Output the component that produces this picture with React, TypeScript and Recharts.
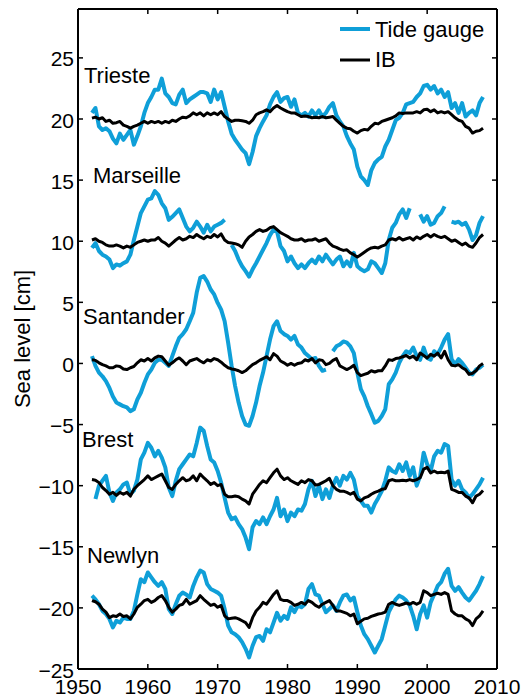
import React from 'react';
import { LineChart, Line, XAxis, YAxis, Legend } from 'recharts';

const BLUE = '#0f9fd8';
const INK = '#000000';
const FONT = '"Liberation Sans", Arial, Helvetica, sans-serif';

// half-year sampling grid, 1952.0 .. 2008.0
const YEARS = Array.from({ length: 113 }, (_, i) => 1952 + i * 0.5);
const X_TICKS = [1950, 1960, 1970, 1980, 1990, 2000, 2010];
const Y_TICKS = [-25, -20, -15, -10, -5, 0, 5, 10, 15, 20, 25];

const STATIONS = ['Trieste', 'Marseille', 'Santander', 'Brest', 'Newlyn'];

// each row of 10 = five years (1952, 1957, ... 2002), last row 2007-2008
const TRIESTE_TG = [
  20.5, 20.9, 19.4, 19.1, 19.25, 19.0, 18.4, 18.0, 18.8, 18.3,
  18.7, 19.1, 17.9, 18.6, 19.4, 20.5, 21.3, 21.8, 22.4, 22.4,
  23.3, 22.1, 21.8, 21.3, 21.2, 22.0, 22.4, 21.3, 21.6, 21.8,
  22.0, 22.2, 22.2, 22.1, 21.4, 22.4, 21.6, 22.2, 21.0, 19.8,
  18.8, 18.3, 17.9, 17.5, 17.2, 16.3, 17.3, 18.6, 19.25, 19.8,
  20.3, 21.2, 21.8, 22.2, 21.4, 21.7, 21.8, 21.0, 21.6, 20.5,
  20.3, 20.5, 20.2, 20.7, 20.3, 20.7, 20.2, 20.5, 21.0, 21.3,
  20.3, 19.8, 19.4, 18.6, 18.0, 17.5, 16.1, 15.3, 15.0, 14.6,
  15.8, 16.4, 16.7, 16.9, 17.75, 18.3, 19.1, 19.9, 20.1, 20.5,
  21.2, 21.3, 21.4, 21.8, 22.1, 22.7, 22.8, 22.4, 22.7, 22.1,
  22.4, 21.8, 22.2, 20.9, 21.3, 20.5, 21.3, 20.2, 20.5, 20.7,
  20.3, 21.3, 21.8,
];
const TRIESTE_IB = [
  20.07, 20.15, 20.0, 20.1, 19.8, 19.9, 19.65, 19.7, 19.8, 19.5,
  19.4, 19.25, 19.4, 19.5, 19.65, 19.8, 19.65, 19.8, 19.7, 19.8,
  19.65, 19.8, 19.7, 19.9, 19.8, 20.0, 20.15, 20.1, 20.25, 20.5,
  20.35, 20.5, 20.25, 20.5, 20.35, 20.5, 20.35, 20.6, 20.2, 20.0,
  19.8, 19.9, 19.9, 19.85, 19.8, 19.65, 19.9, 20.35, 20.5, 20.6,
  20.75, 20.6, 20.9, 21.1, 20.9, 20.75, 20.6, 20.5, 20.5, 20.35,
  20.2, 20.25, 20.2, 20.1, 20.15, 20.1, 20.2, 20.1, 20.15, 20.2,
  19.9, 19.65, 19.4, 19.25, 19.2, 19.0, 18.85, 19.05, 19.15, 19.1,
  19.4, 19.65, 19.6, 19.8, 19.9, 20.0, 20.1, 20.25, 20.5, 20.45,
  20.5, 20.5, 20.5, 20.6, 20.5, 20.75, 20.8, 20.6, 20.75, 20.5,
  20.6, 20.5, 20.6, 20.35, 20.1, 19.9, 19.8, 19.4, 19.25, 18.85,
  19.0, 19.05, 19.25,
];

const MARSEILLE_TG = [
  9.45, 9.85, 9.2, 8.9, 8.75, 8.5, 7.8, 8.1, 8.0, 8.2,
  8.35, 8.9, 10.1, 11.2, 12.3, 12.85, 13.4, 13.5, 14.1, 13.8,
  13.1, 12.7, 11.75, 12.0, 12.3, 12.6, 11.9, 11.2, 10.8, 11.1,
  11.6, 11.2, 10.7, 11.35, 10.8, 11.2, 11.35, 11.5, 11.75, null,
  9.7, 9.2, 8.5, 7.95, 7.55, 7.1, 7.7, 8.2, 8.75, 9.3,
  9.85, 10.5, 10.95, 10.8, 9.6, 9.2, 8.35, 8.75, 8.2, 7.8,
  8.1, 7.8, 8.2, 8.5, 8.2, 8.75, 8.35, 8.9, 8.5, 8.1,
  8.5, 8.75, 7.95, 8.35, 7.95, 9.05, 7.95, 7.7, 7.55, 7.7,
  8.35, 8.2, 7.8, 7.4, 8.2, 10.1, 11.1, 11.5, 12.2, 12.6,
  11.9, 12.7, null, null, 12.2, 11.6, 12.05, 11.35, 11.5, 12.05,
  12.3, 12.85, null, 11.6, 11.5, 11.6, 11.35, 11.5, 10.95, 10.1,
  10.5, 11.5, 12.05,
];
const MARSEILLE_IB = [
  10.1, 10.2, 10.0, 9.9, 9.7, 9.6, 9.6, 9.7, 9.6, 9.45,
  9.6, 9.5, 9.7, 9.9, 10.0, 10.1, 10.0, 10.1, 10.1, 10.3,
  10.0, 9.85, 9.6, 9.85, 10.1, 10.3, 10.1, 10.2, 10.4, 10.3,
  10.55, 10.35, 10.2, 10.4, 10.3, 10.55, 10.35, 10.6, 10.1, 9.9,
  9.85, 9.8, 9.7, 9.5, 10.0, 10.35, 10.55, 10.8, 10.95, 10.8,
  10.9, 11.1, 11.2, 10.95, 10.7, 10.55, 10.4, 10.2, 10.1, 10.1,
  10.2, 10.0, 10.1, 10.1, 10.2, 10.0, 10.1, 10.2, 9.85, 9.6,
  9.5, 9.35, 9.25, 9.3, 9.05, 8.9, 8.7, 8.9, 9.1, 9.3,
  9.45, 9.5, 9.45, 9.6, 9.7, 10.1, 10.2, 10.1, 10.3, 10.1,
  10.2, 10.3, 10.1, 10.35, 10.2, 10.4, 10.55, 10.35, 10.55, 10.4,
  10.3, 10.4, 10.2, 10.0, 10.1, 9.9, 9.7, 9.85, 9.6, 9.5,
  9.85, 10.3, 10.55,
];

const SANTANDER_TG = [
  0.6, -0.2, -0.75, -1.05, -1.45, -2.0, -2.7, -3.2, -3.35, -3.5,
  -3.6, -3.9, -3.75, -2.95, -2.4, -1.6, -0.9, -0.5, 0.05, 0.3,
  0.3, 0.05, -0.2, 0.6, 1.4, 2.1, 2.4, 2.8, 3.45, 4.15,
  5.8, 7.0, 7.15, 6.7, 6.05, 5.65, 4.95, 4.4, 3.45, 1.7,
  -0.2, -1.85, -3.2, -4.3, -5.0, -5.1, -4.3, -3.2, -1.85, -0.75,
  0.6, 1.95, 3.05, 3.45, 2.65, 2.4, 2.25, 1.95, 2.25, 1.55,
  1.3, 0.85, 0.6, 0.35, 0.45, -0.2, -0.6, -0.5, null, 1.0,
  1.4, 1.55, 1.8, 1.7, 1.4, 0.85, -0.75, -2.1, -2.7, -3.5,
  -4.15, -4.85, -4.7, -4.3, -3.75, -1.7, -1.3, -0.75, 0.05, 0.6,
  1.0, 0.85, 1.3, 0.6, 0.3, 1.3, 0.45, 0.3, 1.0, 0.75,
  1.3, 1.95, 2.4, 0.35, -0.1, 0.35, 0.05, -0.35, -0.75, -0.9,
  -0.5, -0.35, -0.1,
];
const SANTANDER_IB = [
  0.3, 0.25, 0.05, -0.1, -0.2, -0.35, -0.35, -0.2, -0.25, -0.45,
  -0.5, -0.35, -0.25, 0.05, 0.3, 0.2, 0.4, 0.2, 0.45, 0.6,
  0.55, 0.2, -0.15, 0.05, 0.3, 0.45, 0.2, -0.1, 0.2, 0.3,
  0.4, 0.2, 0.05, 0.3, 0.2, 0.4, 0.3, 0.1, -0.15, -0.35,
  -0.45, -0.5, -0.6, -0.75, -0.6, -0.35, -0.1, 0.05, 0.25, 0.4,
  0.55, 0.3, 0.8, 0.6, 0.2, 0.05, -0.15, 0.0, -0.15, 0.0,
  0.05, 0.3, 0.2, 0.4, 0.05, 0.3, 0.25, -0.1, 0.0, 0.25,
  0.4, -0.2, -0.35, -0.5, -0.35, -0.15, -0.75, -1.0, -0.9, -0.8,
  -0.6, -0.7, -0.6, -0.6, -0.2, 0.3, 0.25, 0.4, 0.45, 0.55,
  0.65, 0.45, 0.6, 0.3, 0.85, 0.65, 0.45, 0.75, 0.6, 0.85,
  0.45, 1.0, 0.3, -0.15, -0.2, -0.1, -0.35, -0.5, -0.9, -0.8,
  -0.6, -0.2, 0.0,
];

const BREST_TG = [
  null, -11.1, -10.0, -9.6, -9.2, -10.55, -11.25, -10.55, -10.3, -9.9,
  -9.75, -10.7, -10.4, -9.5, -7.85, -7.3, -6.5, -6.9, -7.6, -7.15,
  -7.7, -8.5, -10.15, -10.85, -9.6, -8.65, -8.25, -7.85, -7.45, -7.6,
  -6.5, -5.25, -5.5, -6.75, -7.85, -8.1, -8.8, -9.75, -11.0, -12.2,
  -12.75, -12.6, -13.15, -13.55, -14.25, -15.2, -13.4, -12.9, -13.15, -12.6,
  -13.15, -12.5, -11.95, -11.0, -12.5, -11.95, -12.9, -12.2, -12.5, -11.95,
  -12.05, -11.5, -10.3, -9.6, -10.85, -10.0, -11.1, -10.3, -11.0, -10.0,
  -9.35, -10.0, -9.2, -9.5, -8.95, -9.5, -10.85, -11.25, -11.65, -11.65,
  -12.2, -11.5, -11.0, -10.45, -9.6, -8.5, -8.8, -8.95, -8.25, -8.8,
  -8.1, -9.2, -8.5, -10.0, -9.2, -7.3, -8.25, -8.8, -7.6, -7.15,
  -7.3, -6.6, -6.75, -9.5, -10.0, -9.6, -10.3, -10.55, -11.0, -10.7,
  -10.3, -9.9, -9.35,
];
const BREST_IB = [
  -9.5, -9.55, -9.75, -10.15, -10.4, -10.7, -10.55, -10.8, -10.55, -10.7,
  -10.55, -10.85, -10.3, -10.0, -9.75, -9.5, -9.2, -9.5, -9.35, -9.2,
  -9.05, -9.6, -10.15, -10.3, -9.9, -9.6, -9.35, -9.6, -9.5, -9.2,
  -9.6, -9.05, -9.35, -9.6, -9.9, -9.75, -10.0, -9.9, -10.7, -10.9,
  -10.9, -10.85, -10.9, -11.1, -11.25, -11.5, -10.7, -10.3, -9.9, -9.6,
  -9.75, -9.35, -8.95, -8.65, -9.2, -9.5, -9.35, -9.6, -9.75, -9.9,
  -9.6, -9.75, -9.5, -9.6, -9.95, -9.9, -9.75, -9.6, -9.4, -10.0,
  -10.3, -10.45, -10.45, -10.55, -10.7, -10.55, -11.1, -11.25, -11.0, -10.9,
  -10.7, -10.55, -10.45, -10.3, -10.25, -9.6, -9.5, -9.6, -9.6, -9.55,
  -9.6, -9.5, -9.6, -9.5, -9.35, -8.65, -8.5, -8.95, -8.8, -8.95,
  -8.9, -8.95, -8.8, -10.3, -10.4, -10.55, -10.55, -10.85, -11.0, -11.4,
  -10.85, -10.7, -10.4,
];

const NEWLYN_TG = [
  -19.0, -19.3, -19.7, -20.25, -20.5, -20.9, -21.6, -21.05, -21.2, -20.8,
  -20.9, -20.9, -20.25, -18.9, -17.65, -17.9, -17.1, -17.5, -17.9, -18.2,
  -17.9, -18.45, -20.1, -20.5, -19.7, -19.0, -18.75, -18.9, -19.15, -18.2,
  -17.5, -16.95, -17.1, -18.05, -18.45, -18.6, -18.75, -19.0, -20.1, -21.45,
  -22.0, -22.15, -22.4, -22.8, -23.35, -24.05, -23.1, -22.4, -22.3, -22.7,
  -21.75, -22.0, -21.2, -20.4, -21.05, -20.65, -20.9, -19.95, -20.35, -19.8,
  -19.95, -19.7, -18.45, -18.05, -18.9, -19.0, -19.7, -20.35, -20.1, -19.8,
  -20.25, -19.55, -19.0, -18.9, -19.4, -19.15, -20.35, -21.45, -22.15, -22.55,
  -23.1, -23.65, -23.1, -22.55, -21.45, -20.35, -19.8, -19.3, -19.0, -19.15,
  -19.4, -19.8, -20.65, -21.75, -20.5, -19.8, -20.8, -19.55, -18.9, -18.2,
  -17.9, -17.2, -16.8, -18.2, -18.6, -18.3, -18.75, -19.15, -19.4, -19.0,
  -18.6, -18.05, -17.4,
];
const NEWLYN_IB = [
  -19.4, -19.5, -19.7, -20.1, -20.35, -20.8, -20.65, -20.7, -20.5, -20.7,
  -20.65, -20.9, -20.5, -19.95, -19.7, -19.4, -19.3, -19.55, -19.4, -19.15,
  -19.0, -19.4, -19.95, -20.35, -20.1, -19.8, -19.7, -19.3, -19.7, -19.55,
  -19.4, -19.0, -19.3, -19.55, -19.8, -19.7, -19.95, -19.8, -20.65, -20.9,
  -20.85, -20.8, -20.9, -21.05, -21.2, -21.6, -20.8, -20.25, -19.95, -19.55,
  -19.7, -19.3, -18.9, -18.6, -19.3, -19.4, -19.4, -19.55, -19.8, -19.7,
  -19.55, -19.7, -19.4, -19.55, -19.8, -19.95, -19.7, -19.55, -19.4, -19.8,
  -20.25, -20.25, -20.35, -20.45, -20.65, -20.5, -21.3, -21.1, -20.9, -20.85,
  -20.7, -20.6, -20.5, -20.45, -20.35, -19.7, -19.55, -19.7, -19.8, -19.7,
  -19.6, -19.7, -19.55, -19.7, -19.55, -18.6, -18.75, -19.0, -18.9, -18.8,
  -18.9, -18.75, -18.9, -20.25, -20.5, -20.65, -20.65, -20.9, -21.05, -21.45,
  -20.9, -20.65, -20.25,
];

const TG_SERIES = [TRIESTE_TG, MARSEILLE_TG, SANTANDER_TG, BREST_TG, NEWLYN_TG];
const IB_SERIES = [TRIESTE_IB, MARSEILLE_IB, SANTANDER_IB, BREST_IB, NEWLYN_IB];

const data = YEARS.map((year, i) => {
  const row: Record<string, number | null> = { year };
  STATIONS.forEach((s, k) => {
    row[`${s}_tg`] = TG_SERIES[k][i];
    row[`${s}_ib`] = IB_SERIES[k][i];
  });
  return row;
});

// where the station names sit (pixel baseline, as in the figure)
const STATION_LABEL_POS = [
  { x: 84, y: 83 },
  { x: 93, y: 183 },
  { x: 83, y: 324 },
  { x: 82, y: 447 },
  { x: 87, y: 563 },
];

const fmt = (v: number) => (v < 0 ? '\u2212' + Math.abs(v) : String(v));

function BottomTick({ x, y, payload }: any) {
  return (
    <g>
      <line x1={x} x2={x} y1={y} y2={y - 5} stroke={INK} strokeWidth={1.5} />
      <text x={x} y={y + 25} textAnchor="middle" fontSize={21} fontFamily={FONT} fill={INK}>
        {payload.value}
      </text>
    </g>
  );
}

function TopTick({ x, y }: any) {
  return <line x1={x} x2={x} y1={y} y2={y + 5} stroke={INK} strokeWidth={1.5} />;
}

function LeftTick({ x, y, payload }: any) {
  return (
    <g>
      <line x1={x} x2={x + 5} y1={y} y2={y} stroke={INK} strokeWidth={1.5} />
      <text x={x - 4} y={y + 8.5} textAnchor="end" fontSize={21} fontFamily={FONT} fill={INK}>
        {fmt(payload.value)}
      </text>
    </g>
  );
}

function RightTick({ x, y }: any) {
  return <line x1={x} x2={x - 5} y1={y} y2={y} stroke={INK} strokeWidth={1.5} />;
}

function LegendBox() {
  return (
    <svg width={180} height={70} style={{ overflow: 'visible' }}>
      <line x1={4} x2={34} y1={19} y2={19} stroke={BLUE} strokeWidth={4} />
      <text x={39} y={26.5} fontSize={22} fontFamily={FONT} fill={INK}>Tide gauge</text>
      <line x1={4} x2={34} y1={50} y2={50} stroke={INK} strokeWidth={3} />
      <text x={39} y={57} fontSize={22} fontFamily={FONT} fill={INK}>IB</text>
    </svg>
  );
}

export default function App() {
  return (
    <div style={{ position: 'relative', width: 526, height: 698, background: '#fff' }}>
      <style>{`body { margin: 0; }`}</style>
      <LineChart
        width={526}
        height={698}
        data={data}
        margin={{ top: 8, right: 28, bottom: 0, left: 0 }}
      >
        <XAxis
          xAxisId="b"
          dataKey="year"
          type="number"
          domain={[1950, 2010]}
          ticks={X_TICKS}
          interval={0}
          height={29}
          tickSize={0}
          tickMargin={0}
          tickLine={false}
          axisLine={{ stroke: INK, strokeWidth: 2 }}
          tick={(p: any) => <BottomTick {...p} />}
        />
        <XAxis
          xAxisId="t"
          orientation="top"
          dataKey="year"
          type="number"
          domain={[1950, 2010]}
          ticks={X_TICKS}
          interval={0}
          height={1}
          tickSize={0}
          tickMargin={0}
          tickLine={false}
          axisLine={{ stroke: INK, strokeWidth: 2 }}
          tick={(p: any) => <TopTick {...p} />}
        />
        <YAxis
          yAxisId="l"
          type="number"
          domain={[-25, 29]}
          ticks={Y_TICKS}
          interval={0}
          width={78}
          tickSize={0}
          tickMargin={0}
          tickLine={false}
          axisLine={{ stroke: INK, strokeWidth: 2 }}
          tick={(p: any) => <LeftTick {...p} />}
        />
        <YAxis
          yAxisId="r"
          orientation="right"
          type="number"
          domain={[-25, 29]}
          ticks={Y_TICKS}
          interval={0}
          width={1}
          tickSize={0}
          tickMargin={0}
          tickLine={false}
          axisLine={{ stroke: INK, strokeWidth: 2 }}
          tick={(p: any) => <RightTick {...p} />}
        />
        <Legend
          layout="horizontal"
          verticalAlign="middle"
          align="center"
          wrapperStyle={{ position: 'absolute', left: 336, top: 10, width: 180, height: 70 }}
          content={() => <LegendBox />}
        />
        {STATIONS.map((s) => (
          <Line
            key={`${s}_tg`}
            xAxisId="b"
            yAxisId="l"
            dataKey={`${s}_tg`}
            stroke={BLUE}
            strokeWidth={4}
            dot={false}
            strokeLinejoin="round"
            isAnimationActive={false}
          />
        ))}
        {/* IB lines sit on the mirrored (top/right) axes, same domains */}
        {STATIONS.map((s) => (
          <Line
            key={`${s}_ib`}
            xAxisId="t"
            yAxisId="r"
            dataKey={`${s}_ib`}
            stroke={INK}
            strokeWidth={3}
            dot={false}
            strokeLinejoin="round"
            isAnimationActive={false}
          />
        ))}
      </LineChart>
      <svg
        width={526}
        height={698}
        style={{ position: 'absolute', left: 0, top: 0, pointerEvents: 'none' }}
      >
        {STATIONS.map((s, k) => (
          <text
            key={s}
            x={STATION_LABEL_POS[k].x}
            y={STATION_LABEL_POS[k].y}
            fontSize={22}
            fontFamily={FONT}
            fill={INK}
          >
            {s}
          </text>
        ))}
        <text
          transform="translate(30,339) rotate(-90)"
          textAnchor="middle"
          fontSize={22}
          fontFamily={FONT}
          fill={INK}
        >
          Sea level [cm]
        </text>
      </svg>
    </div>
  );
}
